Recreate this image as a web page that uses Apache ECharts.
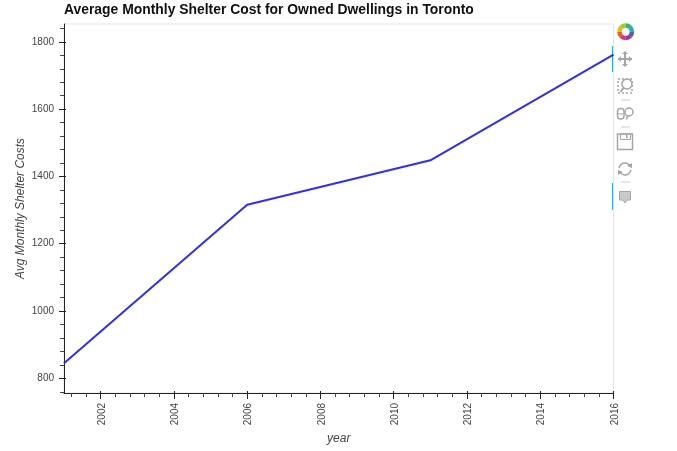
<!DOCTYPE html>
<html><head><meta charset="utf-8">
<style>html,body{margin:0;padding:0;background:#fff}#c{width:677px;height:451px}</style>
<script src="https://cdn.jsdelivr.net/npm/echarts@6/dist/echarts.min.js"></script>
</head><body><div id="c"></div>
<script>
const years = [2001, 2006, 2011, 2016];
const costs = [845, 1316, 1448, 1762];
const xMajor = [2002, 2004, 2006, 2008, 2010, 2012, 2014, 2016];
const xMinor = [2001.2, 2001.6, 2002.4, 2002.8, 2003.2, 2003.6, 2004.4, 2004.8, 2005.2, 2005.6, 2006.4, 2006.8, 2007.2, 2007.6, 2008.4, 2008.8, 2009.2, 2009.6, 2010.4, 2010.8, 2011.2, 2011.6, 2012.4, 2012.8, 2013.2, 2013.6, 2014.4, 2014.8, 2015.2, 2015.6];
const yMajor = [800, 1000, 1200, 1400, 1600, 1800];
const yMinor = [760, 840, 880, 920, 960, 1040, 1080, 1120, 1160, 1240, 1280, 1320, 1360, 1440, 1480, 1520, 1560, 1640, 1680, 1720, 1760, 1840];
const titleText = 'Average Monthly Shelter Cost for Owned Dwellings in Toronto';
const FONT = '"Liberation Sans", Arial, sans-serif';
const AX = '#222', GR = '#a3a6a8';
const xRange = {min: 2001, max: 2016}, yRange = {min: 756.4, max: 1853};

const xAxes = [
 {type:'value', ...xRange, position:'bottom', splitLine:{show:false},
  name:'year', nameLocation:'middle', nameGap:40, nameMoveOverlap:false,
  nameTextStyle:{fontFamily:FONT,fontStyle:'italic',fontSize:12,color:'#444'},
  axisLine:{show:true,onZero:false,lineStyle:{color:AX,width:1}},
  axisTick:{show:true,customValues:xMajor,length:6,inside:false,lineStyle:{color:AX}},
  axisLabel:{show:true,customValues:xMajor,rotate:90,margin:10,hideOverlap:false,verticalAlign:'top',lineHeight:3,fontFamily:FONT,fontSize:10,color:'#444',formatter:v=>String(v)}},
 {type:'value', ...xRange, position:'bottom', splitLine:{show:false}, axisLine:{show:false,onZero:false},
  axisLabel:{show:false}, axisTick:{show:true,customValues:xMinor,length:4,lineStyle:{color:'#444'}}},
 {type:'value', ...xRange, position:'bottom', splitLine:{show:false}, axisLine:{show:false,onZero:false},
  axisLabel:{show:false}, axisTick:{show:true,customValues:xMajor,length:2,inside:true,lineStyle:{color:AX}}}
];
const yAxes = [
 {type:'value', ...yRange, position:'left', splitLine:{show:false},
  name:'Avg Monthly Shelter Costs', nameLocation:'middle', nameGap:37, nameMoveOverlap:false,
  nameTextStyle:{fontFamily:FONT,fontStyle:'italic',fontSize:12,color:'#444'},
  axisLine:{show:true,onZero:false,lineStyle:{color:AX,width:1}},
  axisTick:{show:true,customValues:yMajor,length:5,lineStyle:{color:AX}},
  axisLabel:{show:true,customValues:yMajor,margin:10,fontFamily:FONT,fontSize:10,color:'#444',formatter:v=>String(v)}},
 {type:'value', ...yRange, position:'left', splitLine:{show:false}, axisLine:{show:false,onZero:false},
  axisLabel:{show:false}, axisTick:{show:true,customValues:yMinor,length:4,lineStyle:{color:'#444'}}},
 {type:'value', ...yRange, position:'left', splitLine:{show:false}, axisLine:{show:false,onZero:false},
  axisLabel:{show:false}, axisTick:{show:true,customValues:yMajor,length:2,inside:true,lineStyle:{color:AX}}}
];

// Toolbar decoration
const logoColors = ['#e6287a','#f15a24','#f7b500','#9acd32','#2bb673','#1fa8dc','#5b5ea6','#8e3a9d'];
const stroke = {stroke:GR, lineWidth:1.5, fill:'none'};
const tb = [];
const sep = y => tb.push({type:'line',silent:true,shape:{x1:621,y1:y,x2:630,y2:y},style:{stroke:'#ccc',lineWidth:1}});
logoColors.forEach((c,i)=>tb.push({type:'sector',silent:true,
  shape:{cx:625.7,cy:31.8,r:8.5,r0:4,startAngle:Math.PI*2*i/8+Math.PI/2,endAngle:Math.PI*2*(i+1)/8+Math.PI/2},style:{fill:c}}));
[[46,72],[183,210]].forEach(([a,b])=>tb.push({type:'line',silent:true,shape:{x1:612.5,y1:a,x2:612.5,y2:b},style:{stroke:'#26aae1',lineWidth:1}}));
// pan
tb.push({type:'line',silent:true,shape:{x1:618,y1:59,x2:632,y2:59},style:{stroke:GR,lineWidth:2}});
tb.push({type:'line',silent:true,shape:{x1:625,y1:52,x2:625,y2:66},style:{stroke:GR,lineWidth:2}});
[[[618,59],[621,56],[621,62]],[[632,59],[629,56],[629,62]],[[625,51],[622,54],[628,54]],[[625,67],[622,64],[628,64]]].forEach(p=>
  tb.push({type:'polygon',silent:true,shape:{points:p},style:{fill:GR}}));
// box zoom
tb.push({type:'rect',silent:true,shape:{x:618,y:79,width:14,height:14},style:{stroke:'#777',lineWidth:1,lineDash:[2,2],fill:'#fff'}});
tb.push({type:'circle',silent:true,shape:{cx:627,cy:84,r:5},style:{stroke:GR,lineWidth:1.5,fill:'#fff'}});
tb.push({type:'line',silent:true,shape:{x1:623.5,y1:88,x2:620.5,y2:92},style:{stroke:GR,lineWidth:2}});
sep(100);
// wheel zoom
tb.push({type:'rect',silent:true,shape:{x:617.5,y:108.5,width:6.5,height:10.5,r:3},style:stroke});
tb.push({type:'line',silent:true,shape:{x1:618,y1:114,x2:623.5,y2:114},style:{stroke:GR,lineWidth:1}});
tb.push({type:'circle',silent:true,shape:{cx:629,cy:112,r:4},style:stroke});
tb.push({type:'line',silent:true,shape:{x1:627.5,y1:116,x2:626.5,y2:119.5},style:{stroke:GR,lineWidth:1.5}});
sep(127);
// save
tb.push({type:'rect',silent:true,shape:{x:617.5,y:134,width:15,height:15.5},style:stroke});
tb.push({type:'rect',silent:true,shape:{x:620.5,y:134,width:10,height:5.5},style:{stroke:GR,lineWidth:1,fill:'none'}});
tb.push({type:'rect',silent:true,shape:{x:626,y:135,width:1.5,height:3},style:{fill:GR}});
// reset
tb.push({type:'arc',silent:true,shape:{cx:625,cy:169,r:6,startAngle:Math.PI*1.05,endAngle:Math.PI*1.85},style:{stroke:GR,lineWidth:1.5,fill:'none'}});
tb.push({type:'arc',silent:true,shape:{cx:625,cy:169,r:6,startAngle:Math.PI*0.05,endAngle:Math.PI*0.85},style:{stroke:GR,lineWidth:1.5,fill:'none'}});
tb.push({type:'polygon',silent:true,shape:{points:[[632,163],[632,168],[627,166]]},style:{fill:GR}});
tb.push({type:'polygon',silent:true,shape:{points:[[618,175],[618,170],[623,172]]},style:{fill:GR}});
sep(182);
// hover
tb.push({type:'polygon',silent:true,shape:{points:[[619.5,191.5],[630.5,191.5],[630.5,200],[627,200],[625,203],[623,200],[619.5,200]]},style:{fill:'#c8cacb',stroke:GR,lineWidth:1}});

const chart = echarts.init(document.getElementById('c'), null, {renderer:'canvas'});
chart.setOption({
 animation:false,
 backgroundColor:'#fff',
 title:{text:titleText,left:59,top:-2,textStyle:{fontFamily:FONT,fontWeight:'bold',fontSize:13.9,color:'#111'}},
 grid:{left:64,right:63.5,top:24,height:369,show:true,borderColor:'#e5e5e5',borderWidth:1,backgroundColor:'#fff'},
 xAxis:xAxes,
 yAxis:yAxes,
 graphic:tb,
 series:[{type:'line',xAxisIndex:0,yAxisIndex:0,data:years.map((y,i)=>[y,costs[i]]),
   showSymbol:false,symbol:'none',lineStyle:{color:'#2222ff',width:2,opacity:.95}}]
});
</script></body></html>
